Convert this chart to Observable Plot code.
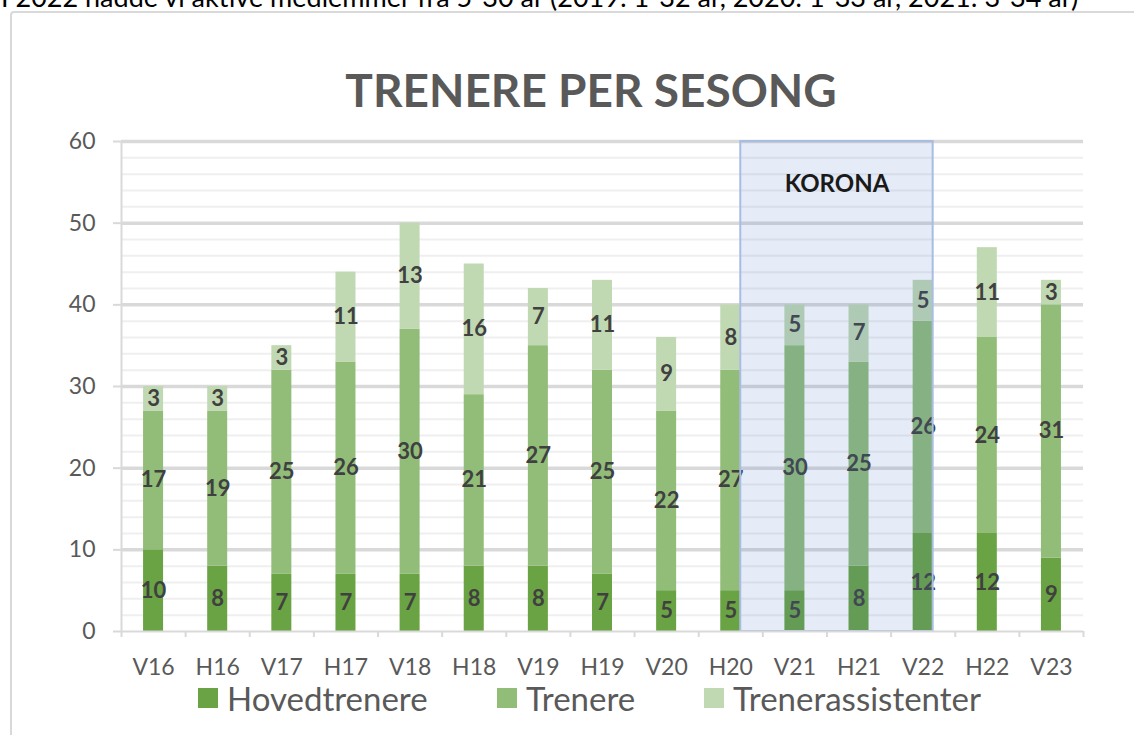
<!DOCTYPE html>
<html>
<head>
<meta charset="utf-8">
<script src="https://cdn.jsdelivr.net/npm/d3@7"></script>
<script src="https://cdn.jsdelivr.net/npm/@observablehq/plot@0.6"></script>
<style>
  html, body { margin: 0; padding: 0; background: #fff; overflow: hidden; }
  #page { position: relative; width: 1134px; height: 735px; overflow: hidden; font-family: Lato, "Open Sans", sans-serif; }
  #toptext { position: absolute; left: 1px; top: -17px; font-size: 27px; line-height: 27px; color: #000; white-space: nowrap; font-family: Lato, sans-serif; }
  #card { position: absolute; left: 10px; top: 11px; width: 1200px; height: 800px; border: 2px solid #d9d9d9; border-radius: 4px; box-sizing: border-box; }
  #title { position: absolute; left: 0; width: 1182px; top: 63px; text-align: center; font-size: 46px; font-weight: 700; color: #595959; line-height: 54px; }
  #chart { position: absolute; left: 0; top: 0; }
  #legend { position: absolute; left: 0; top: 682px; width: 1134px; height: 32px; }
  .item { position: absolute; top: 0; display: flex; align-items: center; font-size: 33px; color: #595959; line-height: 32px; height: 32px; }
  .sw { width: 20px; height: 20px; margin-right: 9px; }
</style>
</head>
<body>
<div id="page">
  <div id="toptext">I 2022 hadde vi aktive medlemmer fra 5-30 år (2019: 1-32 år, 2020: 1-33 år, 2021: 3-34 år)</div>
  <div id="card"></div>
  <div id="title">TRENERE PER SESONG</div>
  <div id="chart"></div>
  <div id="legend"></div>
</div>
<script>
// ---- data ----
const seasons = ["V16","H16","V17","H17","V18","H18","V19","H19","V20","H20","V21","H21","V22","H22","V23"];
const hovedtrenere = [10, 8, 7, 7, 7, 8, 8, 7, 5, 5, 5, 8, 12, 12, 9];
const trenere = [17, 19, 25, 26, 30, 21, 27, 25, 22, 27, 30, 25, 26, 24, 31];
const trenerassistenter = [3, 3, 3, 11, 13, 16, 7, 11, 9, 8, 5, 7, 5, 11, 3];
const seriesNames = ["Hovedtrenere", "Trenere", "Trenerassistenter"];
const seriesColors = ["#6aa343", "#91bd78", "#c0d9b2"];
const yTicksMajor = [0, 10, 20, 30, 40, 50, 60];
const koronaLabel = "KORONA";
const koronaFrom = "H20";  // box starts at right edge of this bar
const koronaTo = "V22";    // box ends at right edge of this bar

// ---- build table ----
const seriesValues = [hovedtrenere, trenere, trenerassistenter];
const half = 0.156; // half bar width in category units
const rows = [];
seasons.forEach((s, i) => {
  let acc = 0;
  seriesValues.forEach((vals, k) => {
    const v = vals[i];
    rows.push({season: s, i, series: seriesNames[k], value: v, y1: acc, y2: acc + v});
    acc += v;
  });
});
const minorTicks = d3.range(0, 61, 2).filter(d => d % 10 !== 0);
const boundaries = d3.range(-0.5, seasons.length, 1);
const kx1 = seasons.indexOf(koronaFrom) + half;
const kx2 = seasons.indexOf(koronaTo) + half;
const korona = [{x1: kx1, x2: kx2, y1: 0, y2: 60, label: koronaLabel}];

const W = 1134, H = 690;
const plot = Plot.plot({
  width: W,
  height: H,
  marginTop: 141,
  marginBottom: H - 631,
  marginLeft: 121,
  marginRight: 51,
  style: {fontFamily: "Lato, sans-serif", background: "transparent", overflow: "visible"},
  x: {type: "linear", domain: [-0.5, seasons.length - 0.5]},
  y: {domain: [0, 60]},
  color: {domain: seriesNames, range: seriesColors},
  marks: [
    Plot.ruleY(minorTicks, {stroke: "#efefef", strokeWidth: 2}),
    Plot.ruleY(yTicksMajor.filter(d => d > 0), {stroke: "#d9d9d9", strokeWidth: 3.5}),
    Plot.rect(rows, {x1: d => d.i - half, x2: d => d.i + half, y1: "y1", y2: "y2", fill: "series"}),
    Plot.text(rows, {x: "i", y: d => (d.y1 + d.y2) / 2, text: d => String(d.value), fill: "#404040", fontSize: 22, fontWeight: 700}),
    Plot.rect(korona, {x1: "x1", x2: "x2", y1: "y1", y2: "y2", fill: "#4472c4", fillOpacity: 0.14, stroke: "#a9bde3", strokeWidth: 2}),
    Plot.text(korona, {x: d => (d.x1 + d.x2) / 2, y: 54.8, text: "label", fill: "#1a1a1a", fontSize: 24, fontWeight: 700}),
    Plot.ruleY([0], {stroke: "#d9d9d9", strokeWidth: 2}),
    Plot.ruleX([-0.5], {y1: 0, y2: 60, stroke: "#d9d9d9", strokeWidth: 2}),
    Plot.ruleX(boundaries, {y1: 0, y2: 0, insetBottom: -6, stroke: "#d9d9d9", strokeWidth: 2}),
    Plot.axisY({ticks: yTicksMajor, tickSize: 8, stroke: "#d9d9d9", strokeWidth: 2, tickPadding: 18, fontSize: 23, fill: "#595959", color: "#595959"}),
    Plot.axisX({ticks: d3.range(seasons.length), tickFormat: i => seasons[i], tickSize: 0, tickPadding: 27, fontSize: 23, fill: "#595959", color: "#595959"})
  ]
});
document.getElementById("chart").appendChild(plot);

// ---- legend ----
const legendX = [198, 497, 704];
const legend = document.getElementById("legend");
seriesNames.forEach((n, k) => {
  const it = document.createElement("div");
  it.className = "item";
  it.style.left = legendX[k] + "px";
  it.innerHTML = `<span class="sw" style="background:${seriesColors[k]}"></span><span>${n}</span>`;
  legend.appendChild(it);
});
</script>
</body>
</html>
